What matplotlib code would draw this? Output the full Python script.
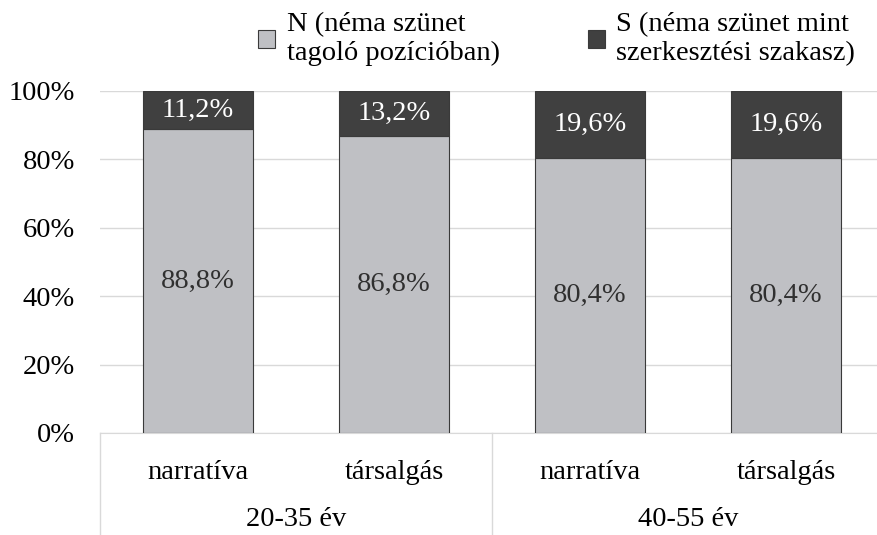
import matplotlib
matplotlib.use('Agg')
import matplotlib.pyplot as plt
import matplotlib.transforms as mtransforms
from matplotlib.patches import Patch

plt.rcParams['font.family'] = ['Liberation Serif', 'DejaVu Serif']

categories = ['narratíva', 'társalgás', 'narratíva', 'társalgás']
groups = ['20-35 év', '40-55 év']
n_values = [88.8, 86.8, 80.4, 80.4]
s_values = [11.2, 13.2, 19.6, 19.6]
legend_labels = ['N (néma szünet\ntagoló pozícióban)', 'S (néma szünet mint\nszerkesztési szakasz)']
yticks = [0, 20, 40, 60, 80, 100]

light = '#bfc0c4'
dark = '#404040'
fs = 20.5

fig = plt.figure(figsize=(8.78, 5.35), dpi=100)
ax = fig.add_axes([100 / 878, 1 - 433 / 535, 784 / 878, (433 - 91) / 535])

x = list(range(len(categories)))
w = 0.56
ax.bar(x, n_values, w, color=light, edgecolor='#3a3a3a', linewidth=0.8, zorder=3)
ax.bar(x, s_values, w, bottom=n_values, color=dark, edgecolor='#3a3a3a', linewidth=0.8, zorder=3)

for i in x:
    ax.text(i, n_values[i] / 2, f'{n_values[i]:.1f}%'.replace('.', ','),
            ha='center', va='center', fontsize=fs, color='#303030', zorder=4)
    ax.text(i, n_values[i] + s_values[i] / 2, f'{s_values[i]:.1f}%'.replace('.', ','),
            ha='center', va='center', fontsize=fs, color='white', zorder=4)

ax.set_xlim(-0.5, len(categories) - 0.5)
ax.set_ylim(0, 100)
ax.set_yticks(yticks)
ax.set_yticklabels([f'{t}%' for t in yticks], fontsize=fs)
ax.yaxis.grid(True, color='#d9d9d9', linewidth=1, zorder=0)
ax.tick_params(axis='y', length=0, pad=18)
ax.set_xticks(x)
ax.set_xticklabels(categories, fontsize=fs)
ax.tick_params(axis='x', length=0, pad=19.5)
for sp in ['top', 'right', 'left']:
    ax.spines[sp].set_visible(False)
ax.spines['bottom'].set_color('#d9d9d9')

trans = mtransforms.blended_transform_factory(ax.transData, ax.transAxes)
depth = (535 - 433) / (433 - 91)
for sx in [-0.5, 1.5, 3.5]:
    ax.plot([sx, sx], [0, -depth], color='#d9d9d9', linewidth=1,
            transform=trans, clip_on=False)
for gi, g in enumerate(groups):
    ax.text(gi * 2 + 0.5, -(520 - 433) / (433 - 91), g, ha='center', va='center',
            fontsize=fs, transform=trans)

handles = [Patch(facecolor=light, edgecolor='#3a3a3a', linewidth=0.8),
           Patch(facecolor=dark, edgecolor='#3a3a3a', linewidth=0.8)]
fig.legend(handles, legend_labels, ncol=2, frameon=False, fontsize=fs,
           loc='upper center', bbox_to_anchor=(0.634, 1.025),
           handlelength=0.6, handleheight=0.6, handletextpad=0.4,
           columnspacing=3.1, labelspacing=0.2)

fig.savefig('out.png', dpi=100)
